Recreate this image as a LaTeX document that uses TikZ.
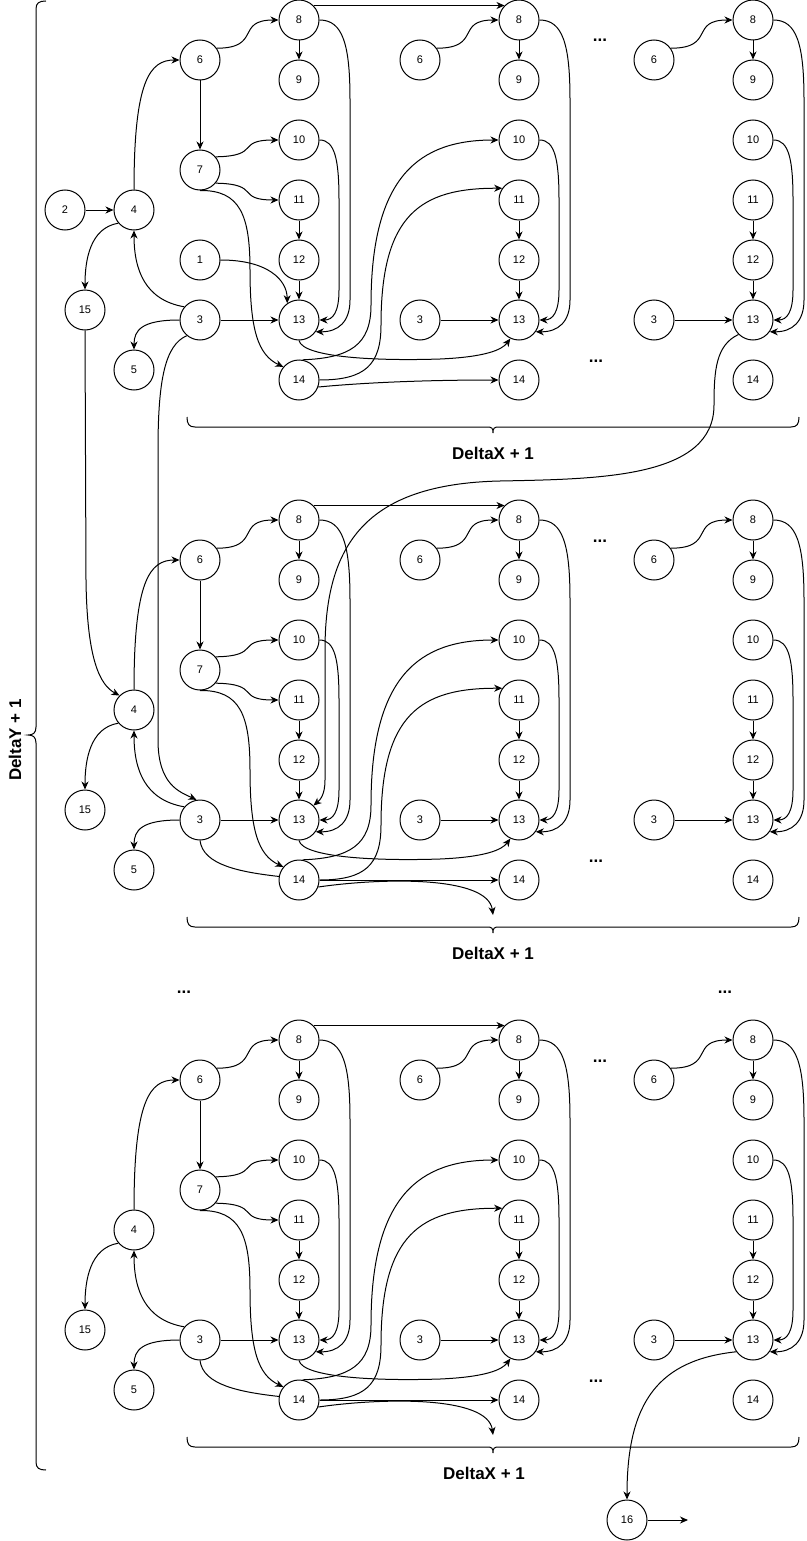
\documentclass[tikz,border=0pt]{standalone}
\usepackage{fontspec}
\setmainfont{Liberation Sans}
\usetikzlibrary{arrows.meta}
\tikzset{
  nd/.style={circle,draw,line width=1pt,minimum size=40pt,inner sep=0pt,font=\fontsize{11}{13}\selectfont},
  ln/.style={line width=1pt},
  arr/.style={line width=1pt,-{Stealth[length=8pt,width=7pt,inset=2.5pt]}},
  lbl/.style={font=\bfseries\fontsize{17}{20}\selectfont,inner sep=0pt},
}
\newcommand{\myblock}[3]{%
\begin{scope}[shift={(0,#2)}]
  % column 1
  \node[nd] (#1a8) at (299,20) {8};
  \node[nd] (#1a9) at (299,80) {9};
  \node[nd] (#1a6) at (200,60) {6};
  \node[nd] (#1a7) at (200,170) {7};
  \node[nd] (#1a10) at (299,140) {10};
  \node[nd] (#1a11) at (299,200) {11};
  \node[nd] (#1a4) at (134,210) {4};
  \node[nd] (#1a12) at (299,260) {12};
  \node[nd] (#1a15) at (85,310) {15};
  \node[nd] (#1a3) at (200,320) {3};
  \node[nd] (#1a13) at (299,320) {13};
  \node[nd] (#1a5) at (134,370) {5};
  \node[nd] (#1a14) at (299,380) {14};
  % column 2
  \node[nd] (#1b6) at (420,60) {6};
  \node[nd] (#1b8) at (519,20) {8};
  \node[nd] (#1b9) at (519,80) {9};
  \node[nd] (#1b10) at (519,140) {10};
  \node[nd] (#1b11) at (519,200) {11};
  \node[nd] (#1b12) at (519,260) {12};
  \node[nd] (#1b3) at (420,320) {3};
  \node[nd] (#1b13) at (519,320) {13};
  \node[nd] (#1b14) at (519,380) {14};
  % column 3
  \node[nd] (#1c6) at (654,60) {6};
  \node[nd] (#1c8) at (753,20) {8};
  \node[nd] (#1c9) at (753,80) {9};
  \node[nd] (#1c10) at (753,140) {10};
  \node[nd] (#1c11) at (753,200) {11};
  \node[nd] (#1c12) at (753,260) {12};
  \node[nd] (#1c3) at (654,320) {3};
  \node[nd] (#1c13) at (753,320) {13};
  \node[nd] (#1c14) at (753,380) {14};
  % dots and label
  \node[lbl,anchor=base] (#1d1) at (600,42) {...};
  \node[lbl,anchor=base] (#1d2) at (596,362) {...};
  \node[lbl] (#1lab) at (#3,453) {DeltaX + 1};
  % column 1 edges
  \draw[arr] (#1a4.north) .. controls (134,80) and (150,60) .. (#1a6.west);
  \draw[arr] (#1a4.220) .. controls (90,228) and (85,260) .. (#1a15.north);
  \draw[arr] (#1a3.140) .. controls (145,300) and (134,270) .. (#1a4.south);
  \draw[arr] (#1a3.west) .. controls (142,320) and (134,330) .. (#1a5.north);
  \draw[arr] (#1a3) -- (#1a13);
  \draw[arr] (#1a6) -- (#1a7);
  \draw[arr] (#1a6.35) .. controls (262,48) and (235,20) .. (#1a8.west);
  \draw[arr] (#1a7.40) .. controls (262,156) and (235,140) .. (#1a10.west);
  \draw[arr] (#1a7.-40) .. controls (262,184) and (235,200) .. (#1a11.west);
  \draw[arr] (#1a7.south) .. controls (240,190) and (250,215) .. (250,270) .. controls (250,330) and (258,355) .. (#1a14.140);
  \draw[arr] (#1a8) -- (#1a9);
  \draw[arr] (#1a11) -- (#1a12);
  \draw[arr] (#1a12) -- (#1a13);
  \draw[arr] (#1a10.east) .. controls (335,140) and (339,160) .. (339,200) -- (339,290) .. controls (339,312) and (333,320) .. (#1a13.east);
  \draw[arr] (#1a8.east) .. controls (343,20) and (350,45) .. (350,100) -- (350,300) .. controls (350,322) and (338,332) .. (#1a13.-35);
  \draw[arr] (#1a8.45) -- (#1b8.135);
  \draw[arr] (#1a13.south) .. controls (303,358) and (380,361) .. (440,359) .. controls (485,357) and (502,350) .. (#1b13.245);
  \draw[arr] (#1a14.80) .. controls (350,358) and (371,345) .. (371,305) .. controls (371,175) and (420,140) .. (#1b10.west);
  \draw[arr] (#1a14.east) .. controls (365,380) and (381,365) .. (381,325) .. controls (381,215) and (420,188) .. (#1b11.145);
  % column 2 edges
  \draw[arr] (#1b6.35) .. controls (482,48) and (455,20) .. (#1b8.west);
  \draw[arr] (#1b8) -- (#1b9);
  \draw[arr] (#1b11) -- (#1b12);
  \draw[arr] (#1b12) -- (#1b13);
  \draw[arr] (#1b3) -- (#1b13);
  \draw[arr] (#1b10.east) .. controls (555,140) and (559,160) .. (559,200) -- (559,290) .. controls (559,312) and (553,320) .. (#1b13.east);
  \draw[arr] (#1b8.east) .. controls (563,20) and (570,45) .. (570,100) -- (570,300) .. controls (570,322) and (558,332) .. (#1b13.-35);
  % column 3 edges
  \draw[arr] (#1c6.35) .. controls (716,48) and (689,20) .. (#1c8.west);
  \draw[arr] (#1c8) -- (#1c9);
  \draw[arr] (#1c11) -- (#1c12);
  \draw[arr] (#1c12) -- (#1c13);
  \draw[arr] (#1c3) -- (#1c13);
  \draw[arr] (#1c10.east) .. controls (789,140) and (793,160) .. (793,200) -- (793,290) .. controls (793,312) and (787,320) .. (#1c13.east);
  \draw[arr] (#1c8.east) .. controls (797,20) and (804,45) .. (804,100) -- (804,300) .. controls (804,322) and (792,332) .. (#1c13.-35);
  % brace
  \draw[ln] (187,417) .. controls (187,424) and (189,427) .. (195,427) -- (487,427) .. controls (492,427) and (493,428) .. (493,433) .. controls (493,428) and (494,427) .. (499,427) -- (791,427) .. controls (797,427) and (799,424) .. (799,417);
\end{scope}}
\begin{document}
\begin{tikzpicture}[x=1pt,y=-1pt]
  \path[fill=white,use as bounding box] (0,0) rectangle (806,1541);
  \myblock{p}{0}{493}
  \myblock{q}{500}{493}
  \myblock{r}{1020}{484}
  % block 1 extras
  \node[nd] (p2) at (65,210) {2};
  \node[nd] (p1) at (200,260) {1};
  \draw[arr] (p2) -- (pa4);
  \draw[arr] (p1.east) .. controls (268,260) and (287,280) .. (pa13.125);
  \draw[arr] (pa14.-20) .. controls (360,383) and (420,380) .. (pb14.west);
  % block 2 extras
  \coordinate (qend) at (493,915);
  \draw[ln] (qa3.south) .. controls (203,865) and (240,872) .. (qa14.170);
  \draw[arr] (qa14) -- (qb14);
  \draw[arr] (qa14.-20) .. controls (380,878) and (488,875) .. (qend);
  % block 3 extras
  \coordinate (rend) at (493,1435);
  \draw[ln] (ra3.south) .. controls (203,1385) and (240,1392) .. (ra14.170);
  \draw[arr] (ra14) -- (rb14);
  \draw[arr] (ra14.-20) .. controls (380,1398) and (488,1395) .. (rend);
  \node[nd] (r16) at (627,1520) {16};
  \coordinate (r16end) at (688,1520);
  \draw[arr] (rc13.215) .. controls (660,1360) and (627,1400) .. (r16.north);
  \draw[arr] (r16) -- (r16end);
  % cross-block edges
  \draw[arr] (pa3.230) .. controls (165,345) and (158,380) .. (158,450) -- (158,740) .. controls (158,785) and (180,792) .. (qa3.100);
  \draw[arr] (pa15.south) -- (86,580) .. controls (87,660) and (100,685) .. (qa4.135);
  \draw[arr] (pc13.225) .. controls (716,345) and (714,370) .. (714,405) .. controls (714,478) and (600,479) .. (500,481) .. controls (365,484) and (325,545) .. (325,650) -- (325,780) .. controls (325,795) and (320,800) .. (qa13.north east);
  % middle dots
  \node[lbl,anchor=base] (m1) at (184,993) {...};
  \node[lbl,anchor=base] (m2) at (725,993) {...};
  % big brace
  \draw[ln] (46,1) .. controls (39,1) and (36,3) .. (36,9) -- (36,727) .. controls (36,733) and (33,735) .. (28,735) .. controls (33,735) and (36,737) .. (36,743) -- (36,1462) .. controls (36,1468) and (39,1470) .. (46,1470);
  \node[lbl,rotate=90] (dy) at (15,740) {DeltaY + 1};
\end{tikzpicture}
\end{document}
